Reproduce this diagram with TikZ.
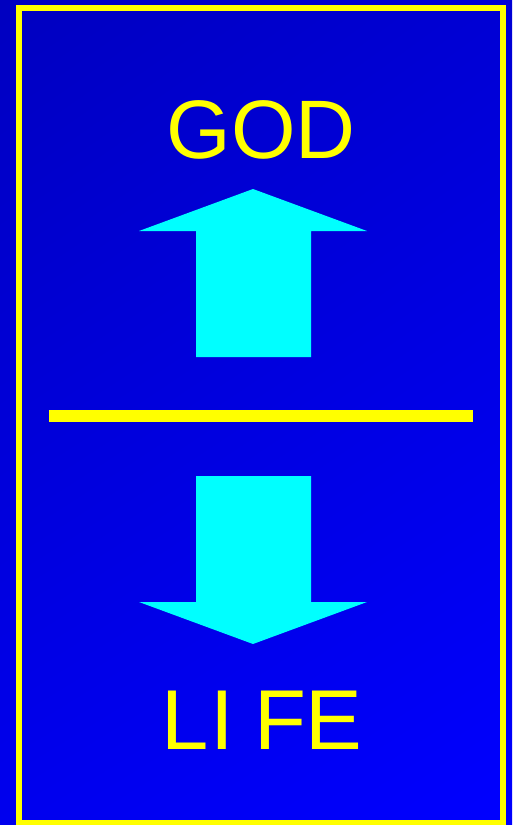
\documentclass[tikz,border=0pt]{standalone}
\usepackage{fontspec}
\setmainfont{Liberation Sans}
\usetikzlibrary{calc, shadings}
\definecolor{bgdark}{RGB}{0,0,192}
\definecolor{bgmidA}{RGB}{0,0,212}
\definecolor{bgmidB}{RGB}{0,0,238}
\definecolor{bglight}{RGB}{0,0,255}
\definecolor{signyellow}{RGB}{255,255,0}
\definecolor{arrowcyan}{RGB}{0,255,255}

\begin{document}
\begin{tikzpicture}[
        x=1pt, y=-1pt,
        signtext/.style={text=signyellow, inner sep=0pt, anchor=base},
        block/.style={fill=arrowcyan},
        frame/.style={draw=signyellow, line width=6pt}
    ]

    % Background
    \shade[upper left=bgdark, upper right=bgmidA, lower left=bgmidB, lower right=bglight] (0,0) rectangle (512,825);
    \useasboundingbox (0,0) rectangle (512,825);
    \draw[frame] (19,8) rectangle (503,823);

    % Nodes
    \node[signtext, font=\fontsize{83}{83}\selectfont] (god) at (261,158) {GOD};
    \node[signtext, font=\fontsize{85}{85}\selectfont] (life) at (261.5,749) {L\kern2ptI\kern20ptF\kern-1ptE};

    % Arrows
    \fill[block] (196,357) -- (196,231) -- (139,231) -- (253,189) -- (367,231) -- (311,231) -- (311,357) -- cycle;
    \fill[block] (196,476) -- (196,602) -- (139,602) -- (253,644) -- (367,602) -- (311,602) -- (311,476) -- cycle;

    % Divider
    \fill[signyellow] (49,410) rectangle (473,422);

\end{tikzpicture}
\end{document}
